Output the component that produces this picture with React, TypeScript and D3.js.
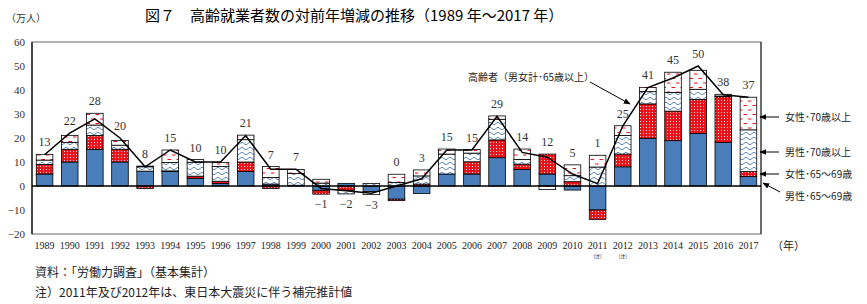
import React from 'react';
import * as d3 from 'd3';

// 年（カテゴリ）
const years = ['1989','1990','1991','1992','1993','1994','1995','1996','1997','1998','1999','2000','2001','2002','2003','2004','2005','2006','2007','2008','2009','2010','2011','2012','2013','2014','2015','2016','2017'];

// 系列（万人、対前年増減）
const male6569 = [5, 10, 15.3, 10, 6.2, 6, 3.2, 1, 6, 0.8, 0.3, -1.8, 1.1, -2.3, -5.5, -3.1, 5, 5, 11.8, 6.9, 5, -1.7, -10, 8, 19.9, 18.9, 21.9, 18.2, 3.9];
const female6569 = [4, 5.3, 5.8, 5.3, -1, 0.3, 0.9, 1, 4, -1, 0, -1.6, -1.8, 0, -0.6, 0.8, 0, 5.1, 7.4, 2.2, 8.3, 1.8, -3.9, 5.3, 14.3, 12.3, 14.2, 19, 2.1];
const male70 = [1.8, 2.9, 4.3, 1.7, 1.8, 3.5, 5.8, 6.1, 9.3, 2.7, 4.9, 1.2, -1.5, 1.1, 1.5, 3.4, 8.3, 3.6, 8.6, 2, 0, 2.5, 7.9, 7.8, 5.1, 7.8, 4.2, 0.3, 17.4];
const female70 = [2.4, 2.9, 4.9, 2, 0.3, 5.2, 1.1, 1.7, 1.9, 4.6, 1.7, 1.6, 0, -1.3, 3.4, 2.5, 2.1, 1.5, 1.4, 4.3, -1.5, 4.5, 4.9, 4, 1.8, 8.4, 7.9, 0.7, 13.6];
// 高齢者（男女計・65歳以上）
const total = [13, 22, 28, 20, 8, 15, 10, 10, 21, 7, 7, -1, -2, -3, 0, 3, 15, 15, 29, 14, 12, 5, 1, 25, 41, 45, 50, 38, 37];

const yTicks = [60, 50, 40, 30, 20, 10, 0, -10, -20];
const noteYears = ['2011', '2012'];
const legendLabels = ['女性･70歳以上', '男性･70歳以上', '女性･65～69歳', '男性･65～69歳'];

const keys = ['m65', 'f65', 'm70', 'f70'];
const fills: Record<string, string> = {
  m65: '#4a7ebb',
  f65: 'url(#redDots)',
  m70: 'url(#wavy)',
  f70: 'url(#dashes)',
};

const W = 867;
const H = 304;
const left = 32;
const right = 761;
const top = 42;
const bottom = 234;

const serif = '"Liberation Serif", "DejaVu Serif", serif';
const jp = '"Noto Sans CJK JP", "Noto Sans", sans-serif';

export default function App() {
  const rows = years.map((yr, i) => ({
    year: yr,
    m65: male6569[i],
    f65: female6569[i],
    m70: male70[i],
    f70: female70[i],
    total: total[i],
  }));

  const x = d3.scaleBand().domain(years).range([left, right]).paddingInner(0.34).paddingOuter(0.17);
  const y = d3.scaleLinear().domain([-20, 60]).range([bottom, top]);

  const series = d3.stack<any>().keys(keys).offset(d3.stackOffsetDiverging)(rows);

  const cx = (yr: string) => (x(yr) as number) + x.bandwidth() / 2;

  const line = d3.line<any>()
    .x(d => cx(d.year))
    .y(d => y(d.total));

  // ラベル位置
  const labelPos = rows.map((r, i) => {
    let posTop = 0;
    let negBot = 0;
    series.forEach(s => {
      posTop = Math.max(posTop, s[i][1]);
      negBot = Math.min(negBot, s[i][0]);
    });
    if (r.total < 0) return y(negBot) + 14;
    return Math.min(y(posTop), y(r.total)) - 8;
  });

  const legendY = [117, 152, 174, 196];

  return (
    <svg width={W} height={H} style={{ position: 'absolute', left: 0, top: 0, background: '#fff' }}>
      <defs>
        <pattern id="redDots" width="3" height="3" patternUnits="userSpaceOnUse">
          <rect width="3" height="3" fill="#e8141b" />
          <rect x="1" y="1" width="1" height="1" fill="#fff" opacity="0.85" />
        </pattern>
        <pattern id="wavy" width="8" height="5" patternUnits="userSpaceOnUse">
          <rect width="8" height="5" fill="#fff" />
          <path d="M0,3.5 Q2,0.8 4,3.5 T8,3.5" fill="none" stroke="#4a7ebb" strokeWidth="0.9" />
        </pattern>
        <pattern id="dashes" width="9" height="9" patternUnits="userSpaceOnUse">
          <rect width="9" height="9" fill="#fff" />
          <line x1="1" x2="4.5" y1="2" y2="2" stroke="#e8141b" strokeWidth="1" />
          <line x1="5.5" x2="9" y1="6.5" y2="6.5" stroke="#e8141b" strokeWidth="1" />
        </pattern>
        <marker id="arrow" viewBox="0 0 10 10" refX="9" refY="5" markerWidth="7" markerHeight="7" orient="auto-start-reverse">
          <path d="M0,1 L10,5 L0,9 z" fill="#000" />
        </marker>
      </defs>

      {/* タイトル */}
      <text x={145} y={21} fontFamily={jp} fontSize={15} fill="#000">図７　高齢就業者数の対前年増減の推移（1989 年～2017 年）</text>

      {/* 単位 */}
      <text x={6} y={22} fontFamily={jp} fontSize={10} fill="#333">（万人）</text>

      {/* 枠 */}
      <rect x={left} y={top} width={right - left} height={bottom - top} fill="none" stroke="#666" strokeWidth={1} />
      <line x1={left} x2={left} y1={top} y2={bottom} stroke="#000" strokeWidth={1.2} />
      <line x1={right} x2={right} y1={top} y2={bottom} stroke="#222" strokeWidth={1} />

      {/* Y軸目盛 */}
      {yTicks.map(t => (
        <g key={t}>
          <text x={25} y={y(t) + 4} textAnchor="end" fontFamily={serif} fontSize={11} fill="#333">
            {t < 0 ? '−' + Math.abs(t) : t}
          </text>
        </g>
      ))}

      {/* 棒 */}
      {series.map(s => (
        <g key={s.key}>
          {s.map((d, i) => {
            const h = Math.abs(y(d[0]) - y(d[1]));
            if (h < 0.01) return null;
            return (
              <rect
                key={i}
                x={x(years[i])}
                y={Math.min(y(d[0]), y(d[1]))}
                width={x.bandwidth()}
                height={h}
                fill={fills[s.key]}
                stroke="#000"
                strokeWidth={0.8}
              />
            );
          })}
        </g>
      ))}

      {/* ゼロ線 */}
      <line x1={left} x2={right} y1={y(0)} y2={y(0)} stroke="#000" strokeWidth={1.4} />

      {/* 折れ線 */}
      <path d={line(rows) || ''} fill="none" stroke="#000" strokeWidth={1.5} />

      {/* 値ラベル */}
      {rows.map((r, i) => (
        <text key={r.year} x={cx(r.year)} y={labelPos[i]} textAnchor="middle" fontFamily={serif} fontSize={12} fill="#333">
          {r.total < 0 ? '−' + Math.abs(r.total) : r.total}
        </text>
      ))}

      {/* X軸ラベル */}
      {years.map(yr => (
        <text key={yr} x={cx(yr)} y={249} textAnchor="middle" fontFamily={serif} fontSize={10} fill="#222">{yr}</text>
      ))}
      {noteYears.map(yr => (
        <text key={'n' + yr} x={cx(yr)} y={258} textAnchor="middle" fontFamily={jp} fontSize={5} fill="#222">(注)</text>
      ))}
      <text x={772} y={250} fontFamily={jp} fontSize={11} fill="#222">（年）</text>

      {/* 注記：高齢者 */}
      <text x={468} y={81} fontFamily={jp} fontSize={10} fill="#222">高齢者（男女計･65歳以上）</text>
      <line x1={590} y1={82} x2={630} y2={104} stroke="#000" strokeWidth={1} markerEnd="url(#arrow)" />

      {/* 凡例 */}
      {legendLabels.map((lab, i) => (
        <g key={lab}>
          <text x={785} y={legendY[i] + 3.5} fontFamily={jp} fontSize={10} fill="#222">{lab}</text>
          {i < 3 ? (
            <line x1={779} y1={legendY[i]} x2={760} y2={legendY[i]} stroke="#000" strokeWidth={1} markerEnd="url(#arrow)" />
          ) : (
            <line x1={780} y1={192} x2={763} y2={183} stroke="#000" strokeWidth={1} markerEnd="url(#arrow)" />
          )}
        </g>
      ))}

      {/* 出所・注 */}
      <text x={35} y={277} fontFamily={jp} fontSize={12} fill="#222">資料：「労働力調査」（基本集計）</text>
      <text x={35} y={297} fontFamily={jp} fontSize={12} fill="#222">注）2011年及び2012年は、東日本大震災に伴う補完推計値</text>
    </svg>
  );
}
